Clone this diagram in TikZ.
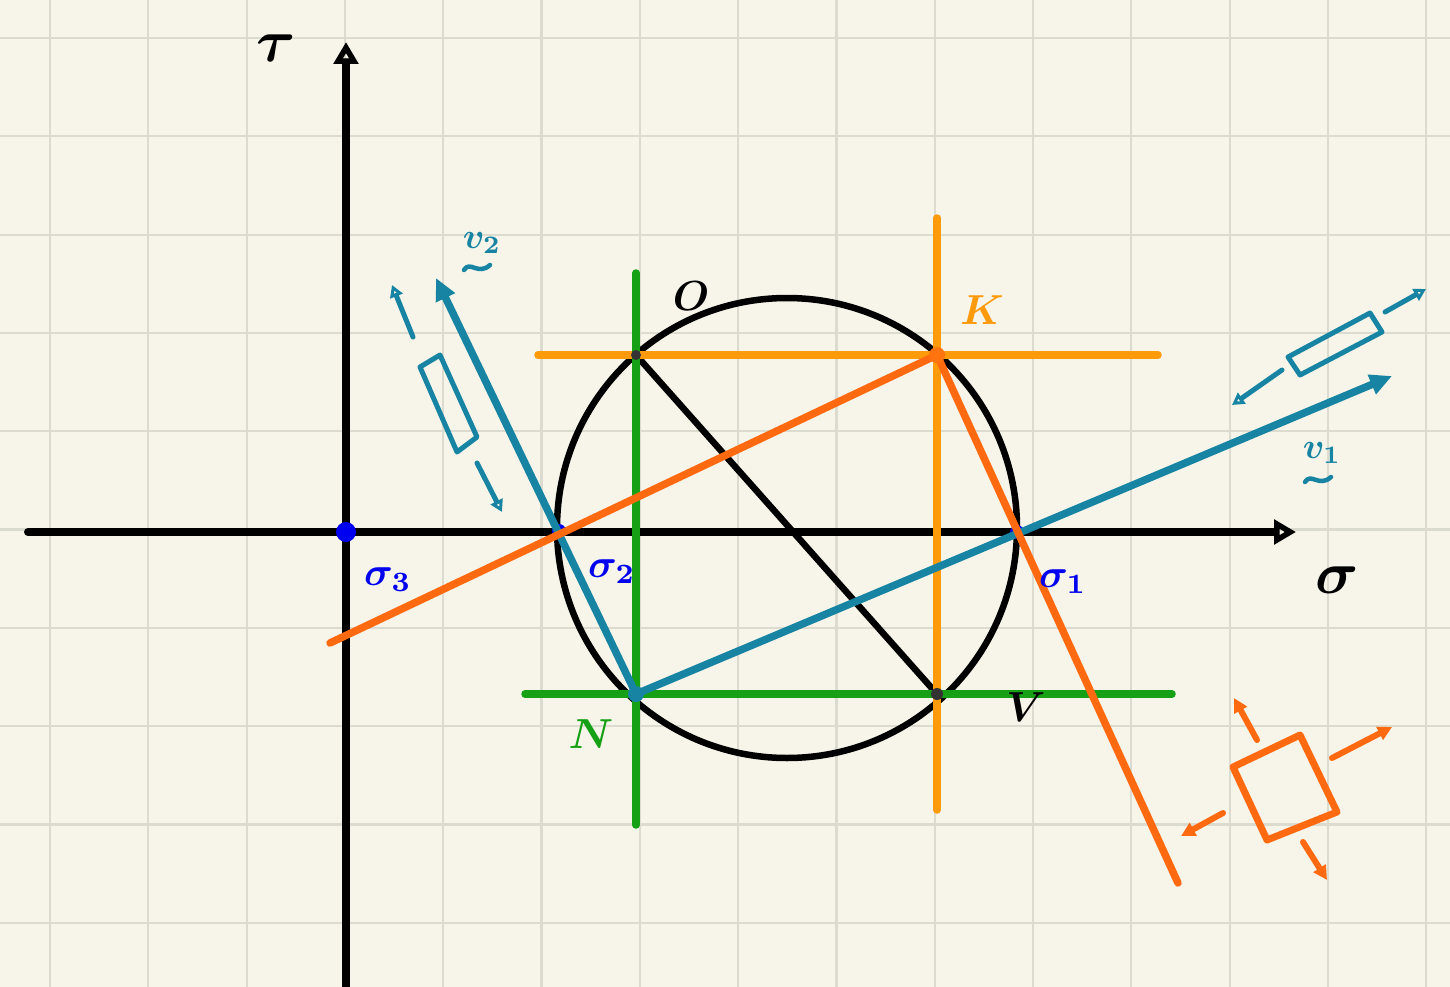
\documentclass[tikz,border=0pt]{standalone}
\usepackage{amsmath}
\usetikzlibrary{arrows.meta}
\definecolor{bg}{HTML}{F7F5E9}
\definecolor{gridc}{HTML}{DCDBCF}
\definecolor{tealc}{HTML}{1784A3}
\definecolor{oranged}{HTML}{FF6A10}
\definecolor{orangel}{HTML}{FF9A0A}
\definecolor{greenc}{HTML}{16A016}
\definecolor{bluec}{HTML}{0000F0}
\begin{document}
\begin{tikzpicture}[x=1pt,y=-1pt,line cap=round,line join=round,
  gridline/.style={gridc,line width=2.2pt},
  axisline/.style={black,line width=8pt,-{Triangle[open,length=22pt,width=24pt,line width=5.5pt]}},
  lightor/.style={orangel,line width=7.5pt},
  greenl/.style={greenc,line width=7.5pt},
  tealmain/.style={tealc,line width=7.5pt,-{Triangle[length=22pt,width=20pt]}},
  darkor/.style={oranged,line width=7.5pt},
  smallteal/.style={tealc,line width=5pt},
  smallor/.style={oranged,line width=6pt},
  tarrow/.style={smallteal,-{Triangle[open,length=12pt,width=13pt,line width=3.5pt]}},
  oarrow/.style={smallor,-{Triangle[length=14pt,width=14pt]}},
  tildeline/.style={tealc,line width=4.5pt},
  lbl/.style={inner sep=0pt,font=\boldmath,scale=4.2},
  biglbl/.style={inner sep=0pt,font=\boldmath,scale=6},
  siglbl/.style={inner sep=0pt,bluec,font=\boldmath,scale=4},
  vlbl/.style={inner sep=0pt,tealc,font=\boldmath,scale=3.6}]
\fill[bg] (0,0) rectangle (1450,987);
\useasboundingbox (0,0) rectangle (1450,987);
% grid
\foreach \i in {0,...,14} \draw[gridline] ({50+98.3*\i},0) -- ({50+98.3*\i},987);
\foreach \j in {0,...,9} \draw[gridline] (0,{38+98.3*\j}) -- (1450,{38+98.3*\j});
% coordinates
\coordinate (xs) at (28,532);
\coordinate (xe) at (1296,532);
\coordinate (ys) at (346,987);
\coordinate (ye) at (346,42);
\coordinate (orig) at (346,532);
\coordinate (C) at (787,528);
\coordinate (O) at (636,355);
\coordinate (K) at (937,355);
\coordinate (N) at (636,694);
\coordinate (V) at (937,694);
\coordinate (S1) at (1017,532);
\coordinate (S2) at (559,531);
\coordinate (ohl) at (538,355);
\coordinate (ohr) at (1158,355);
\coordinate (ovt) at (937,218);
\coordinate (ovb) at (937,810);
\coordinate (gvt) at (636,273);
\coordinate (gvb) at (636,825);
\coordinate (ghl) at (525,694);
\coordinate (ghr) at (1172,694);
\coordinate (v2tip) at (436,278);
\coordinate (v1tip) at (1392,376);
\coordinate (oa) at (330,643);
\coordinate (ob) at (1178,883);
% axes
\draw[axisline] (xs) -- (xe);
\draw[axisline] (ys) -- (ye);
% circle
\draw[black,line width=6.5pt] (C) circle[radius=230pt];
% black diagonal
\draw[black,line width=6.5pt] (O) -- (V);
% blue points on axis
\fill[bluec] (S2) circle[radius=7pt];
\fill[bluec] (S1) circle[radius=7pt];
% light orange lines
\draw[lightor] (ohl) -- (ohr);
\draw[lightor] (ovt) -- (ovb);
% green lines
\draw[greenl] (gvt) -- (gvb);
\draw[greenl] (ghl) -- (ghr);
% teal lines
\draw[tealmain] (N) -- (v2tip);
\draw[tealmain] (N) -- (v1tip);
% dark orange lines
\draw[darkor] (oa) -- (K) -- (ob);
% dots
\fill[bluec] (orig) circle[radius=10pt];
\fill[oranged!80!orangel] (K) circle[radius=8pt];
\fill[tealc] (N) circle[radius=8pt];
\fill[black!80] (V) circle[radius=6pt];
\fill[black!80] (O) circle[radius=5pt];
% small element upper left
\draw[smallteal] (420,367) -- (440,355) -- (477,437) -- (457,452) -- cycle;
\draw[tarrow] (413,337) -- (392,285);
\draw[tarrow] (477,463) -- (502,512);
% small element upper right
\draw[smallteal] (1288,357) -- (1370,313) -- (1382,332) -- (1300,375) -- cycle;
\draw[tarrow] (1282,370) -- (1232,405);
\draw[tarrow] (1385,312) -- (1426,289);
% small element lower right
\draw[smallor,line width=7pt] (1233,767) -- (1300,735) -- (1337,812) -- (1267,840) -- cycle;
\draw[oarrow] (1257,740) -- (1234,698);
\draw[oarrow] (1332,758) -- (1392,727);
\draw[oarrow] (1223,813) -- (1181,836);
\draw[oarrow] (1303,842) -- (1327,880);
% labels
\node[biglbl] (tau) at (276,48) {$\tau$};
\node[biglbl] (sig) at (1337,580) {$\sigma$};
\node[siglbl] (s3) at (388,580) {$\sigma_3$};
\node[siglbl] (s2) at (612,572) {$\sigma_2$};
\node[siglbl] (s1) at (1063,582) {$\sigma_1$};
\node[lbl] (Olbl) at (691,296) {$O$};
\node[lbl,orangel] (Klbl) at (982,310) {$K$};
\node[lbl,greenc] (Nlbl) at (591,734) {$N$};
\node[lbl] (Vlbl) at (1026,707) {$V$};
\node[vlbl] (v2) at (482,243) {$v_{2}$};
\draw[tildeline] (464,270) .. controls (470,260) and (478,276) .. (490,265);
\node[vlbl] (v1) at (1322,453) {$v_{1}$};
\draw[tildeline] (1305,482) .. controls (1311,472) and (1319,488) .. (1331,477);
\end{tikzpicture}
\end{document}
